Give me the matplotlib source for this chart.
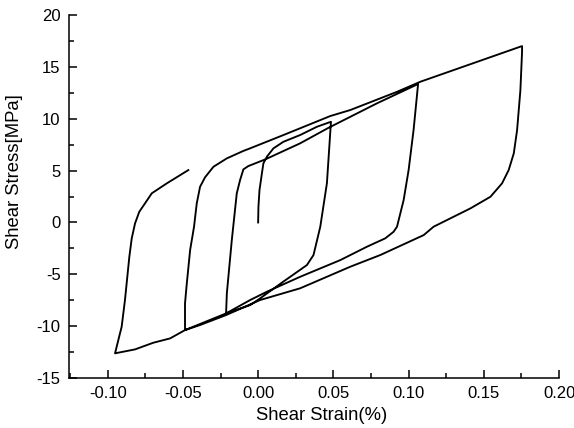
import numpy as np
import matplotlib as mpl
mpl.use("Agg")
import matplotlib.pyplot as plt
from matplotlib.ticker import MultipleLocator

plt.rcParams.update({
    "font.family": ["Liberation Sans", "DejaVu Sans"],
    "font.size": 12,
    "axes.unicode_minus": False,
})

# strain (%) / stress (MPa), one path per branch
load1_x = [0.0, 0.0002, 0.0009, 0.0025, 0.0035, 0.0058, 0.0102, 0.0168, 0.0279, 0.0391, 0.0484]
load1_y = [0.0, 1.51, 3.12, 4.73, 5.70, 6.34, 7.15, 7.78, 8.43, 9.23, 9.71]

unload1_x = [0.0484, 0.0457, 0.0413, 0.0368, 0.0324, 0.0166, 0.0013, -0.0053, -0.0213]
unload1_y = [9.71, 3.77, -0.41, -3.14, -4.11, -5.72, -7.32, -7.97, -8.77]

reload2_x = [-0.0213, -0.0208, -0.0175, -0.0142, -0.0120, -0.0098, -0.0065, 0.0047,
             0.0279, 0.0468, 0.0790, 0.1063]
reload2_y = [-8.77, -6.84, -1.70, 2.81, 4.09, 5.12, 5.44, 6.08, 7.63, 9.13, 11.49, 13.35]

unload2_x = [0.1063, 0.1033, 0.1000, 0.0967, 0.0923, 0.0900, 0.0845, 0.0723, 0.0546,
             0.0279, 0.0058, -0.0053, -0.0213, -0.0486]
unload2_y = [13.35, 8.91, 5.05, 2.16, -0.41, -0.90, -1.53, -2.34, -3.63,
             -5.24, -6.68, -7.48, -8.77, -10.38]

reload3_x = [-0.0486, -0.0486, -0.0474, -0.0452, -0.0426, -0.0408, -0.0386, -0.0353,
             -0.0297, -0.0208, -0.0098, -0.0053, 0.0168, 0.0479, 0.0612, 0.0923,
             0.1078, 0.1754]
reload3_y = [-10.38, -7.80, -5.87, -2.66, -0.41, 1.84, 3.44, 4.35,
             5.37, 6.18, 6.90, 7.15, 8.43, 10.26, 10.84, 12.60,
             13.57, 17.01]

unload3_x = [0.1754, 0.1754, 0.1743, 0.1721, 0.1699, 0.1665, 0.1621, 0.1544, 0.1411,
             0.1166, 0.1100, 0.0812, 0.0612, 0.0279, 0.0013, -0.0213, -0.0386,
             -0.0486, -0.0585, -0.0697, -0.0818, -0.0951]
unload3_y = [17.01, 16.46, 12.77, 8.91, 6.66, 5.05, 3.77, 2.48, 1.36,
             -0.41, -1.22, -3.14, -4.27, -6.35, -7.48, -8.93, -9.89,
             -10.38, -11.18, -11.60, -12.24, -12.62]

reload4_x = [-0.0951, -0.0918, -0.0907, -0.0885, -0.0856, -0.0840, -0.0818, -0.0790,
             -0.0752, -0.0707, -0.0607, -0.0464]
reload4_y = [-12.62, -10.69, -10.06, -7.48, -3.31, -1.53, -0.09, 1.03,
             1.84, 2.81, 3.77, 5.05]

strain = np.concatenate([load1_x, unload1_x[1:], reload2_x[1:], unload2_x[1:],
                         reload3_x[1:], unload3_x[1:], reload4_x[1:]])
stress = np.concatenate([load1_y, unload1_y[1:], reload2_y[1:], unload2_y[1:],
                         reload3_y[1:], unload3_y[1:], reload4_y[1:]])

fig = plt.figure(figsize=(5.74, 4.28), dpi=100)
ax = fig.add_axes([0.1202, 0.1168, 0.8538, 0.848])
ax.plot(strain, stress, color="black", lw=1.35)

ax.set_xlim(-0.1257, 0.20)
ax.set_ylim(-15, 20)
ax.xaxis.set_major_locator(MultipleLocator(0.05))
ax.xaxis.set_minor_locator(MultipleLocator(0.025))
ax.yaxis.set_major_locator(MultipleLocator(5))
ax.yaxis.set_minor_locator(MultipleLocator(2.5))
ax.xaxis.set_major_formatter(mpl.ticker.FormatStrFormatter("%.2f"))
ax.tick_params(which="both", direction="in", width=1.1)
ax.tick_params(which="major", length=6, pad=6)
ax.tick_params(which="minor", length=3.5)
for s in ("top", "right"):
    ax.spines[s].set_visible(False)
for s in ("left", "bottom"):
    ax.spines[s].set_linewidth(1.1)

ax.set_xlabel("Shear Strain(%)", fontsize=13.3)
ax.xaxis.set_label_coords(0.515, -0.08)
ax.set_ylabel("Shear Stress[MPa]", fontsize=13.3)
ax.yaxis.set_label_coords(-0.093, 0.57)

fig.savefig("out.png", dpi=100)
